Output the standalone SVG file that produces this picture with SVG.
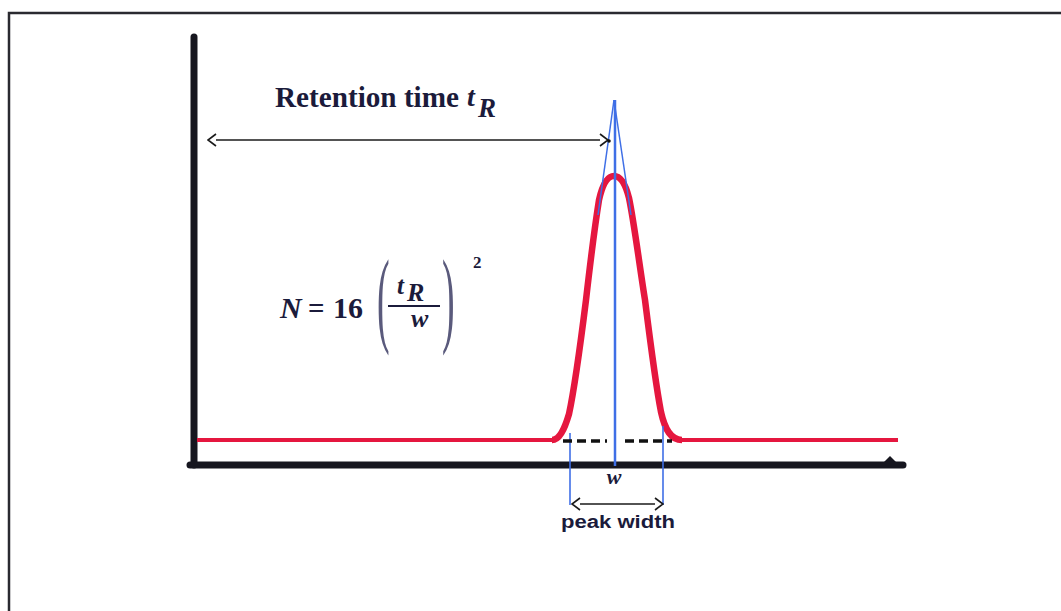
<svg xmlns="http://www.w3.org/2000/svg" width="1061" height="611" viewBox="0 0 1061 611">
<style>
.serif{font-family:"Liberation Serif","Times New Roman",serif;fill:#1b1b3b;font-weight:bold}
.it{font-style:italic}
.sans{font-family:"Liberation Sans",Arial,sans-serif;fill:#1b1b3b;font-weight:bold}
.blue{stroke:#3f6fe6;fill:none}
.arrow{stroke:#1a1a1a;stroke-width:1.6;fill:none}
.paren{font-family:"Liberation Serif",serif;fill:#5a5a7c}
</style>
<defs>
<marker id="chev" viewBox="-1 -7 10 14" markerWidth="10" markerHeight="14" refX="0" refY="0" orient="auto-start-reverse" markerUnits="userSpaceOnUse">
<path d="M-8,-6 L0,0 L-8,6" transform="translate(8,0)" fill="none" stroke="#1a1a1a" stroke-width="1.6"/>
</marker>
</defs>
<rect width="1061" height="611" fill="#ffffff"/>
<rect id="frame" x="9" y="13" width="1100" height="700" fill="none" stroke="#2a2a30" stroke-width="2.5"/>

<g id="axes">
<line x1="194" y1="37" x2="194" y2="465" stroke="#16161f" stroke-width="7" stroke-linecap="round"/>
<line x1="190" y1="465" x2="903" y2="465" stroke="#16161f" stroke-width="7" stroke-linecap="round"/>
<path d="M884,462 L890,456 L896,462 Z" fill="#16161f"/>
</g>

<g id="chromatogram">
<line x1="197" y1="440" x2="556" y2="440" stroke="#e5173f" stroke-width="4"/>
<line x1="680" y1="440" x2="898" y2="440" stroke="#e5173f" stroke-width="4"/>
<path d="M552,440 C559,440 564,431 569,414 C575,386 581,340 586,300 C590,265 595,225 599,200 C603,182 608,176 614,176 C620,176 625,182 629,198 C634,222 639,262 645,300 C650,340 656,386 661,412 C665,430 671,440 682,440" fill="none" stroke="#e5173f" stroke-width="6.5" stroke-linejoin="round"/>
</g>

<g id="construction">
<line class="blue" x1="615" y1="100" x2="615" y2="466" stroke-width="2.5"/>
<line class="blue" x1="614" y1="100" x2="598" y2="215" stroke-width="1.5"/>
<line class="blue" x1="614" y1="100" x2="631" y2="215" stroke-width="1.5"/>
<line class="blue" x1="570" y1="433" x2="570" y2="505" stroke-width="1.6"/>
<line class="blue" x1="663" y1="426" x2="663" y2="505" stroke-width="1.6"/>
<line x1="563" y1="441" x2="607" y2="441" stroke="#111" stroke-width="3.5" stroke-dasharray="9 5"/>
<line x1="625" y1="441" x2="672" y2="441" stroke="#111" stroke-width="3.5" stroke-dasharray="9 5"/>
</g>

<g id="connectors">
<line class="arrow" x1="216" y1="140" x2="600" y2="140" marker-start="url(#chev)" marker-end="url(#chev)"/>
<circle cx="609" cy="141" r="1.8" fill="#111"/>
<line class="arrow" x1="580" y1="504" x2="655" y2="504" marker-start="url(#chev)" marker-end="url(#chev)"/>
</g>

<g id="retention-label">
<text class="serif" x="275" y="107" font-size="29" textLength="184" lengthAdjust="spacingAndGlyphs">Retention time</text>
<text class="serif it" x="467" y="106" font-size="28">t</text>
<text class="serif it" x="478" y="117" font-size="27">R</text>
</g>

<g id="formula">
<text class="serif it" x="280" y="318" font-size="30">N</text>
<text class="serif" x="308" y="318" font-size="29">=</text>
<text class="serif" x="333" y="318" font-size="30">16</text>
<text class="paren" transform="translate(377,333) scale(0.36,1)" font-size="105">(</text>
<text class="serif it" x="397" y="294" font-size="25">t</text>
<text class="serif it" x="407" y="301" font-size="26">R</text>
<line x1="388" y1="306" x2="440" y2="306" stroke="#1b1b3b" stroke-width="2"/>
<text class="serif it" x="411" y="327" font-size="26">w</text>
<text class="paren" transform="translate(442,333) scale(0.36,1)" font-size="105">)</text>
<text class="serif" x="473" y="268" font-size="17">2</text>
</g>

<g id="width-label">
<text class="serif it" x="614" y="484" font-size="22" text-anchor="middle">w</text>
<text class="sans" x="561" y="528" font-size="18" textLength="114" lengthAdjust="spacingAndGlyphs">peak width</text>
</g>
</svg>
